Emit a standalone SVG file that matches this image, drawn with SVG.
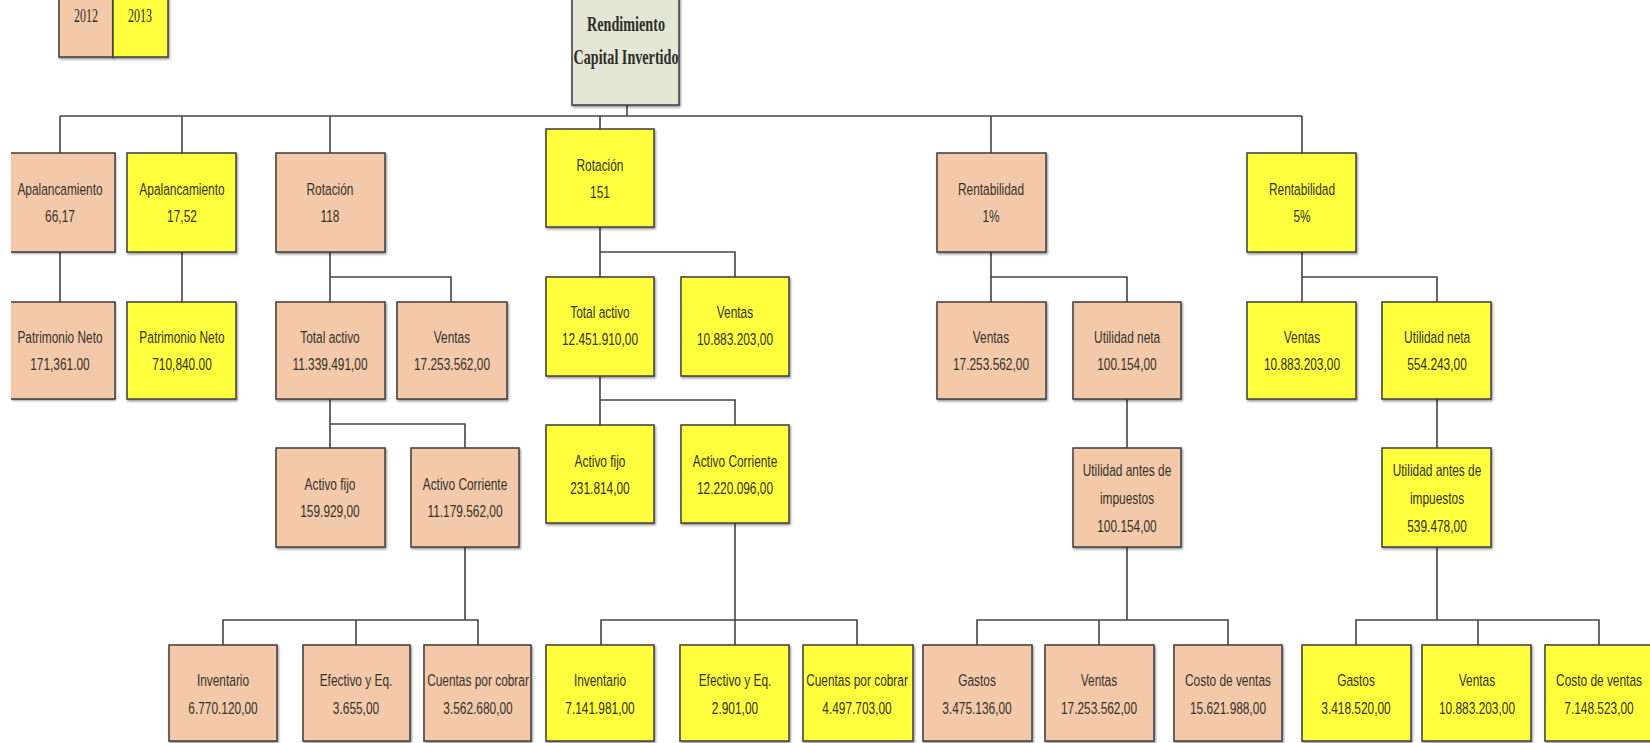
<svg xmlns="http://www.w3.org/2000/svg" width="1650" height="743" viewBox="0 0 1650 743">
  <defs>
    <filter id="shadow" x="-10%" y="-10%" width="130%" height="130%">
      <feDropShadow dx="1" dy="1.5" stdDeviation="0.8" flood-color="#000" flood-opacity="0.45"/>
    </filter>
  </defs>
  <style>
    .box { stroke: #3c3c3c; stroke-width: 1.5; filter: url(#shadow); }
    .y2012 { fill: #f4c9aa; }
    .y2013 { fill: #ffff3c; }
    .root { fill: #e3e5d5; }
    .edge { fill: none; stroke: #3c3c3c; stroke-width: 1.5; }
    .lbl { font-family: "Liberation Sans", Arial, sans-serif; font-size: 17px; fill: #33332a; text-anchor: middle;
           transform-box: fill-box; transform-origin: center; transform: scaleX(0.7); }
    .serif { font-family: "Liberation Serif", "DejaVu Serif", serif; fill: #2e2e28; text-anchor: middle; }
    .conn { fill: none; stroke: #444; stroke-width: 1.6; }
  </style>
  <rect width="1650" height="743" fill="#ffffff"/>

  <!-- legend -->
  <g id="legend">
    <rect class="box y2012" x="59" y="-2" width="54" height="59"/>
    <rect class="box y2013" x="113" y="-2" width="55" height="59"/>
    <text class="serif" x="86" y="22" font-size="19" textLength="24" lengthAdjust="spacingAndGlyphs">2012</text>
    <text class="serif" x="140" y="22" font-size="19" textLength="24" lengthAdjust="spacingAndGlyphs">2013</text>
  </g>

  <!-- connectors -->
  <g id="connectors" class="conn">
    <path d="M627 105V116M60 116H1302M60 116V153M182 116V153M330 116V153M600 116V129M991 116V153M1302 116V153"/>
    <path d="M60 252V302M182 252V302"/>
    <path d="M330 252V277H451V302M330 277V302"/>
    <path d="M330 399V424H465V448M330 424V448"/>
    <path d="M465 547V620M223 645V620H478V645M356 620V645"/>
    <path d="M600 227V252H735V277M600 252V277"/>
    <path d="M600 376V400H735V425M600 400V425"/>
    <path d="M735 523V620M601 645V620H857V645M735 620V645"/>
    <path d="M991 252V277H1127V302M991 277V302"/>
    <path d="M1127 399V448"/>
    <path d="M1127 547V620M977 645V620H1228V645M1099 620V645"/>
    <path d="M1302 252V277H1437V302M1302 277V302"/>
    <path d="M1437 399V448"/>
    <path d="M1437 547V620M1356 645V620H1599V645M1478 620V645"/>
  </g>

  <!-- root -->
  <g id="n-root">
    <rect class="box root" x="572" y="-2" width="107" height="107"/>
    <text class="serif" x="626" y="31" font-size="21" font-weight="bold" textLength="78" lengthAdjust="spacingAndGlyphs">Rendimiento</text>
    <text class="serif" x="626" y="64" font-size="21" font-weight="bold" textLength="105" lengthAdjust="spacingAndGlyphs">Capital Invertido</text>
  </g>

  <!-- level 1 -->
  <g id="n-apal-2012">
    <rect class="y2012" x="11" y="153" width="104" height="99" filter="url(#shadow)"/>
    <path class="edge" d="M11 153H115V252H11"/>
    <text class="lbl" x="60" y="195">Apalancamiento</text>
    <text class="lbl" x="60" y="222">66,17</text>
  </g>
  <g id="n-apal-2013">
    <rect class="box y2013" x="127" y="153" width="109" height="99"/>
    <text class="lbl" x="182" y="195">Apalancamiento</text>
    <text class="lbl" x="182" y="222">17,52</text>
  </g>
  <g id="n-rot-2012">
    <rect class="box y2012" x="276" y="153" width="109" height="99"/>
    <text class="lbl" x="330" y="195">Rotación</text>
    <text class="lbl" x="330" y="222">118</text>
  </g>
  <g id="n-rot-2013">
    <rect class="box y2013" x="546" y="129" width="108" height="98"/>
    <text class="lbl" x="600" y="171">Rotación</text>
    <text class="lbl" x="600" y="198">151</text>
  </g>
  <g id="n-rent-2012">
    <rect class="box y2012" x="937" y="153" width="109" height="99"/>
    <text class="lbl" x="991" y="195">Rentabilidad</text>
    <text class="lbl" x="991" y="222">1%</text>
  </g>
  <g id="n-rent-2013">
    <rect class="box y2013" x="1247" y="153" width="109" height="99"/>
    <text class="lbl" x="1302" y="195">Rentabilidad</text>
    <text class="lbl" x="1302" y="222">5%</text>
  </g>

  <!-- level 2 -->
  <g id="n-pat-2012">
    <rect class="y2012" x="11" y="302" width="104" height="97" filter="url(#shadow)"/>
    <path class="edge" d="M11 302H115V399H11"/>
    <text class="lbl" x="60" y="343">Patrimonio Neto</text>
    <text class="lbl" x="60" y="370">171,361.00</text>
  </g>
  <g id="n-pat-2013">
    <rect class="box y2013" x="127" y="302" width="109" height="97"/>
    <text class="lbl" x="182" y="343">Patrimonio Neto</text>
    <text class="lbl" x="182" y="370">710,840.00</text>
  </g>
  <g id="n-ta-2012">
    <rect class="box y2012" x="276" y="302" width="109" height="97"/>
    <text class="lbl" x="330" y="343">Total activo</text>
    <text class="lbl" x="330" y="370">11.339.491,00</text>
  </g>
  <g id="n-ven-2012-a">
    <rect class="box y2012" x="397" y="302" width="110" height="97"/>
    <text class="lbl" x="452" y="343">Ventas</text>
    <text class="lbl" x="452" y="370">17.253.562,00</text>
  </g>
  <g id="n-ta-2013">
    <rect class="box y2013" x="546" y="277" width="108" height="99"/>
    <text class="lbl" x="600" y="318">Total activo</text>
    <text class="lbl" x="600" y="345">12.451.910,00</text>
  </g>
  <g id="n-ven-2013-a">
    <rect class="box y2013" x="681" y="277" width="108" height="99"/>
    <text class="lbl" x="735" y="318">Ventas</text>
    <text class="lbl" x="735" y="345">10.883.203,00</text>
  </g>
  <g id="n-ven-2012-b">
    <rect class="box y2012" x="937" y="302" width="109" height="97"/>
    <text class="lbl" x="991" y="343">Ventas</text>
    <text class="lbl" x="991" y="370">17.253.562,00</text>
  </g>
  <g id="n-un-2012">
    <rect class="box y2012" x="1073" y="302" width="108" height="97"/>
    <text class="lbl" x="1127" y="343">Utilidad neta</text>
    <text class="lbl" x="1127" y="370">100.154,00</text>
  </g>
  <g id="n-ven-2013-b">
    <rect class="box y2013" x="1247" y="302" width="109" height="97"/>
    <text class="lbl" x="1302" y="343">Ventas</text>
    <text class="lbl" x="1302" y="370">10.883.203,00</text>
  </g>
  <g id="n-un-2013">
    <rect class="box y2013" x="1382" y="302" width="109" height="97"/>
    <text class="lbl" x="1437" y="343">Utilidad neta</text>
    <text class="lbl" x="1437" y="370">554.243,00</text>
  </g>

  <!-- level 3 -->
  <g id="n-af-2012">
    <rect class="box y2012" x="276" y="448" width="109" height="99"/>
    <text class="lbl" x="330" y="490">Activo fijo</text>
    <text class="lbl" x="330" y="517">159.929,00</text>
  </g>
  <g id="n-ac-2012">
    <rect class="box y2012" x="411" y="448" width="108" height="99"/>
    <text class="lbl" x="465" y="490">Activo Corriente</text>
    <text class="lbl" x="465" y="517">11.179.562,00</text>
  </g>
  <g id="n-af-2013">
    <rect class="box y2013" x="546" y="425" width="108" height="98"/>
    <text class="lbl" x="600" y="467">Activo fijo</text>
    <text class="lbl" x="600" y="494">231.814,00</text>
  </g>
  <g id="n-ac-2013">
    <rect class="box y2013" x="681" y="425" width="108" height="98"/>
    <text class="lbl" x="735" y="467">Activo Corriente</text>
    <text class="lbl" x="735" y="494">12.220.096,00</text>
  </g>
  <g id="n-uai-2012">
    <rect class="box y2012" x="1073" y="448" width="108" height="99"/>
    <text class="lbl" x="1127" y="476">Utilidad antes de</text>
    <text class="lbl" x="1127" y="504">impuestos</text>
    <text class="lbl" x="1127" y="532">100.154,00</text>
  </g>
  <g id="n-uai-2013">
    <rect class="box y2013" x="1382" y="448" width="109" height="99"/>
    <text class="lbl" x="1437" y="476">Utilidad antes de</text>
    <text class="lbl" x="1437" y="504">impuestos</text>
    <text class="lbl" x="1437" y="532">539.478,00</text>
  </g>

  <!-- level 4 -->
  <g id="n-inv-2012">
    <rect class="box y2012" x="169" y="645" width="108" height="96"/>
    <text class="lbl" x="223" y="686">Inventario</text>
    <text class="lbl" x="223" y="714">6.770.120,00</text>
  </g>
  <g id="n-ef-2012">
    <rect class="box y2012" x="303" y="645" width="107" height="96"/>
    <text class="lbl" x="356" y="686">Efectivo y Eq.</text>
    <text class="lbl" x="356" y="714">3.655,00</text>
  </g>
  <g id="n-cxc-2012">
    <rect class="box y2012" x="424" y="645" width="107" height="96"/>
    <text class="lbl" x="478" y="686">Cuentas por cobrar</text>
    <text class="lbl" x="478" y="714">3.562.680,00</text>
  </g>
  <g id="n-inv-2013">
    <rect class="box y2013" x="546" y="645" width="108" height="96"/>
    <text class="lbl" x="600" y="686">Inventario</text>
    <text class="lbl" x="600" y="714">7.141.981,00</text>
  </g>
  <g id="n-ef-2013">
    <rect class="box y2013" x="680" y="645" width="109" height="96"/>
    <text class="lbl" x="735" y="686">Efectivo y Eq.</text>
    <text class="lbl" x="735" y="714">2.901,00</text>
  </g>
  <g id="n-cxc-2013">
    <rect class="box y2013" x="803" y="645" width="110" height="96"/>
    <text class="lbl" x="857" y="686">Cuentas por cobrar</text>
    <text class="lbl" x="857" y="714">4.497.703,00</text>
  </g>
  <g id="n-gas-2012">
    <rect class="box y2012" x="923" y="645" width="109" height="96"/>
    <text class="lbl" x="977" y="686">Gastos</text>
    <text class="lbl" x="977" y="714">3.475.136,00</text>
  </g>
  <g id="n-ven-2012-c">
    <rect class="box y2012" x="1045" y="645" width="109" height="96"/>
    <text class="lbl" x="1099" y="686">Ventas</text>
    <text class="lbl" x="1099" y="714">17.253.562,00</text>
  </g>
  <g id="n-cv-2012">
    <rect class="box y2012" x="1174" y="645" width="108" height="96"/>
    <text class="lbl" x="1228" y="686">Costo de ventas</text>
    <text class="lbl" x="1228" y="714">15.621.988,00</text>
  </g>
  <g id="n-gas-2013">
    <rect class="box y2013" x="1302" y="645" width="109" height="96"/>
    <text class="lbl" x="1356" y="686">Gastos</text>
    <text class="lbl" x="1356" y="714">3.418.520,00</text>
  </g>
  <g id="n-ven-2013-c">
    <rect class="box y2013" x="1422" y="645" width="109" height="96"/>
    <text class="lbl" x="1477" y="686">Ventas</text>
    <text class="lbl" x="1477" y="714">10.883.203,00</text>
  </g>
  <g id="n-cv-2013">
    <rect class="box y2013" x="1545" y="645" width="108" height="96"/>
    <text class="lbl" x="1599" y="686">Costo de ventas</text>
    <text class="lbl" x="1599" y="714">7.148.523,00</text>
  </g>
</svg>
